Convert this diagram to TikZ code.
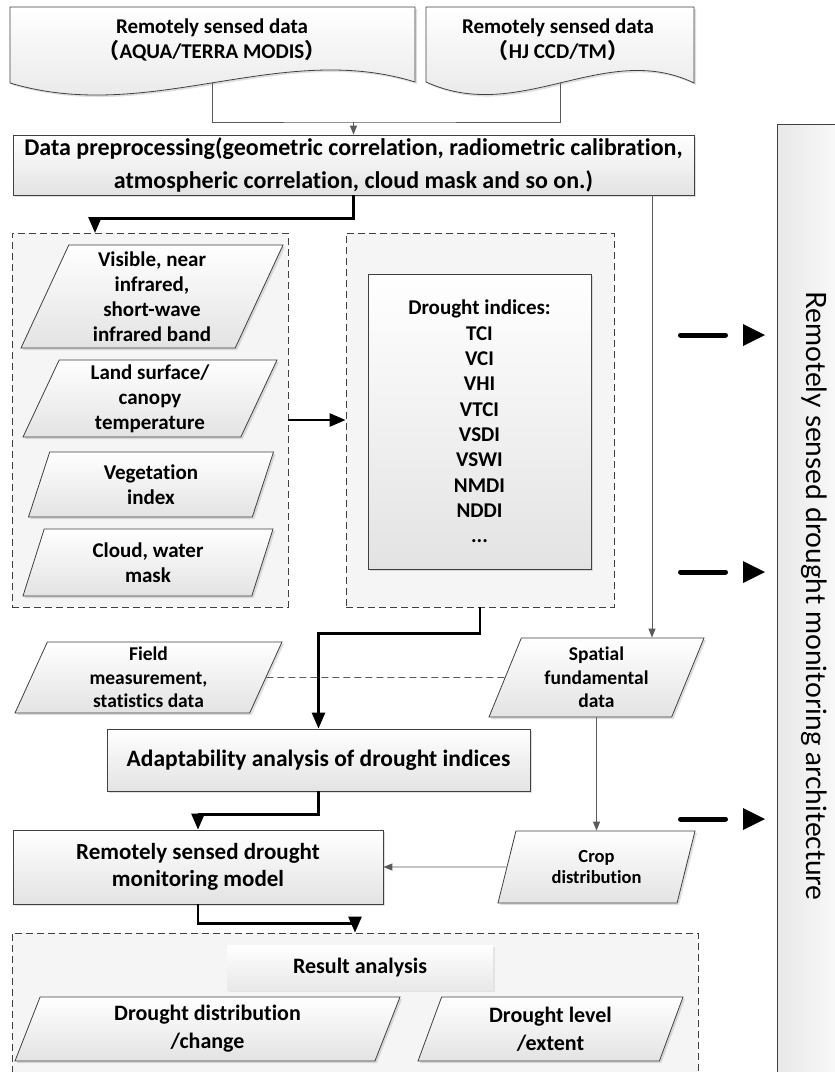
\documentclass[tikz,border=0pt]{standalone}
\usepackage{fontspec}
\setmainfont{Carlito}[Ligatures=NoCommon]
\newfontfamily\archfont{Lato}
\newfontfamily\cjkfont{Noto Sans CJK SC}
\usetikzlibrary{arrows.meta,shapes.geometric,shadows}

\definecolor{edgegray}{HTML}{404040}
\definecolor{wiregray}{HTML}{5A5A5A}

\tikzset{
    shaded/.style={top color=white, bottom color=black!11,
        drop shadow={opacity=0.25, shadow xshift=2pt, shadow yshift=-2pt}},
    docshape/.style={shaded, draw=edgegray, line width=0.8pt},
    doctext/.style={align=center, font=\bfseries\fontsize{21}{25}\selectfont},
    procbox/.style={shaded, draw=edgegray, line width=0.8pt, rectangle, align=center, inner sep=0pt},
    databox/.style={shaded, draw=edgegray, line width=0.8pt, trapezium, trapezium left angle=62,
        trapezium right angle=118, trapezium stretches body, align=center, inner sep=0pt,
        font=\bfseries\fontsize{21}{25}\selectfont},
    groupbox/.style={draw=edgegray, line width=0.8pt, dash pattern=on 7pt off 4pt, fill=black!4, inner sep=0pt},
    thinwire/.style={draw=wiregray, line width=0.9pt},
    thinarrow/.style={thinwire, -{Triangle[length=9pt,width=7pt]}},
    thickarrow/.style={black, line width=2.6pt, -{Triangle[length=16pt,width=13pt]}},
    linkline/.style={wiregray, line width=0.9pt, dash pattern=on 7pt off 4pt},
    sidebar/.style={black, line width=5pt, line cap=round},
}

\begin{document}
\begin{tikzpicture}[x=1pt, y=-1pt]
    \useasboundingbox (0,0) rectangle (835,1072);

    % architecture column on the right
    \node[draw=edgegray, line width=0.8pt, left color=black!9, right color=white,
          minimum width=83pt, minimum height=976pt] (archbox) at (818.5,612) {};
    \node[rotate=-90, font=\archfont\fontsize{28}{32}\selectfont] (archlabel) at (814,596)
          {Remotely sensed drought monitoring architecture};
    \draw[sidebar] (680.5,335) -- (725.5,335);
    \fill (743,324) -- (765,335) -- (743,346) -- cycle;
    \draw[sidebar] (680.5,572) -- (725.5,572);
    \fill (743,561) -- (765,572) -- (743,583) -- cycle;
    \draw[sidebar] (680.5,819) -- (725.5,819);
    \fill (743,808) -- (765,819) -- (743,830) -- cycle;

    % source data
    \draw[docshape] (10,7) -- (415,7) -- (415,82) .. controls (280,40) and (150,125) .. (10,83) -- cycle;
    \draw[docshape] (426,7) -- (694,7) -- (694,83) .. controls (605,40) and (520,125) .. (426,82) -- cycle;
    \node[doctext] (modis) at (212,40) {Remotely sensed data\\{\cjkfont （}AQUA/TERRA MODIS{\cjkfont ）}};
    \node[doctext] (hjccd) at (558,40) {Remotely sensed data\\{\cjkfont （}HJ CCD/TM{\cjkfont ）}};
    \coordinate (modis-b) at (212,83);
    \coordinate (hjccd-b) at (560,83);
    \coordinate (merge) at (353.5,122);

    \node[procbox, minimum width=681pt, minimum height=60pt, font=\bfseries\fontsize{24}{33}\selectfont]
          (prep) at (353.5,165) {Data preprocessing(geometric correlation, radiometric calibration,\\
          atmospheric correlation, cloud mask and so on.)};
    \draw[thinwire] (modis-b) |- (merge) -| (hjccd-b);
    \draw[thinarrow] (merge) -- (prep);

    % remote sensing products and indices
    \node[groupbox, minimum width=276pt, minimum height=374pt] (bands) at (150,420) {};
    \node[groupbox, minimum width=268pt, minimum height=374pt] (indexgrp) at (480,420) {};
    \node[databox, minimum width=262pt, minimum height=103pt] (vis) at (152,296.5)
          {Visible, near\\infrared,\\short-wave\\infrared band};
    \node[databox, minimum width=254pt, minimum height=77pt] (lst) at (150,398.5)
          {Land surface/\\canopy\\temperature};
    \node[databox, minimum width=245pt, minimum height=65pt] (veg) at (151,484.5)
          {Vegetation\\index};
    \node[databox, minimum width=250pt, minimum height=67pt] (mask) at (148,562.5)
          {Cloud, water\\mask};
    \node[procbox, minimum width=223pt, minimum height=295pt, font=\bfseries\fontsize{21}{25.3}\selectfont]
          (indices) at (479.5,421.5)
          {Drought indices:\\TCI\\VCI\\VHI\\VTCI\\VSDI\\VSWI\\NMDI\\NDDI\\...};
    \coordinate (bands-in) at (95,233);
    \draw[thickarrow] (prep.south) -- ++(0,23) -| (bands-in);
    \draw[thickarrow] (bands) -- (indexgrp);

    % auxiliary data
    \node[databox, minimum width=267pt, minimum height=71pt, font=\bfseries\fontsize{19.5}{23.5}\selectfont]
          (field) at (148.5,677.5) {Field\\measurement,\\statistics data};
    \node[databox, minimum width=215pt, minimum height=79pt, font=\bfseries\fontsize{19.5}{23.5}\selectfont]
          (spatial) at (596.5,677.5) {Spatial\\fundamental\\data};
    \node[databox, minimum width=197pt, minimum height=72pt, font=\bfseries\fontsize{18.5}{21.5}\selectfont]
          (crop) at (596.5,867) {Crop\\distribution};
    \coordinate (tap) at (652,195);
    \draw[thinarrow] (tap) -- (tap |- spatial.north);
    \draw[linkline] (field) -- (spatial);
    \draw[thinarrow] (spatial) -- (crop);

    % analysis and model
    \node[procbox, minimum width=423pt, minimum height=62pt, font=\bfseries\fontsize{23.5}{28}\selectfont]
          (adapt) at (318.5,760) {Adaptability analysis of drought indices};
    \node[procbox, minimum width=370pt, minimum height=74pt, font=\bfseries\fontsize{23}{27}\selectfont]
          (model) at (198,867) {Remotely sensed drought\\monitoring model};
    \draw[thickarrow] (indexgrp.south) -- ++(0,26) -| (adapt.north);
    \draw[thickarrow] (adapt.south) -- ++(0,23) -| (model.north);
    \draw[thinarrow] (crop) -- (model);

    % results
    \node[groupbox, minimum width=686pt, minimum height=167pt] (results) at (355,1016.5) {};
    \draw[thickarrow] (model.south) -- ++(0,19) -| (results.north);
    \node[top color=white, bottom color=black!9, minimum width=266pt, minimum height=45pt,
          drop shadow={opacity=0.15, shadow xshift=2pt, shadow yshift=-2pt},
          font=\bfseries\fontsize{22}{26}\selectfont] (reslabel) at (360,967.5) {Result analysis};
    \node[databox, minimum width=385pt, minimum height=64pt, font=\bfseries\fontsize{22}{28}\selectfont]
          (distrib) at (207.5,1029) {Drought distribution\\/change};
    \node[databox, minimum width=265pt, minimum height=64pt, font=\bfseries\fontsize{22}{28}\selectfont]
          (level) at (550.5,1029) {Drought level\\/extent};
\end{tikzpicture}
\end{document}
